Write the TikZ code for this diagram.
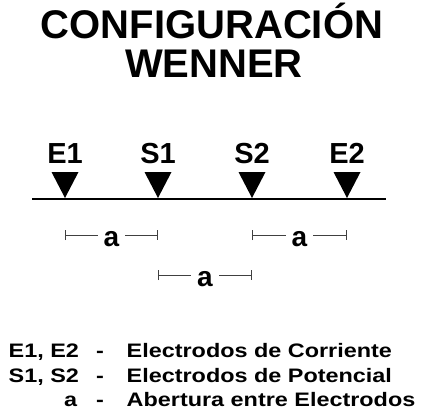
\documentclass[tikz,border=0pt]{standalone}
\usepackage{fontspec}
\setmainfont{Liberation Sans}
\newfontfamily\legendfont[FakeStretch=1.2]{Liberation Sans}
\usetikzlibrary{calc,arrows.meta}

\begin{document}
\begin{tikzpicture}[
    x=1pt, y=-1pt,
    titletext/.style={font=\fontsize{40}{40}\selectfont\bfseries, anchor=base, inner sep=0pt},
    electrodelabel/.style={font=\fontsize{29}{29}\selectfont\bfseries, anchor=base, inner sep=0pt},
    spacinglabel/.style={font=\fontsize{28}{28}\selectfont\bfseries, fill=white, inner xsep=6pt, inner ysep=1pt},
    spacing/.style={{Bar[width=10pt]}-{Bar[width=10pt]}, line width=0.8pt, black!75},
    legendtext/.style={font=\legendfont\bfseries\fontsize{19.5}{19.5}\selectfont, anchor=base west, inner sep=0pt},
    ground/.style={line width=2pt},
    spike/.style={fill=black},
]
\useasboundingbox (0,0) rectangle (427,415);

% === TITLE ===
\node[titletext] (title-top) at (212,38) {CONFIGURACIÓN};
\node[titletext] (title-bottom) at (214,77) {WENNER};

% === GROUND LINE AND ELECTRODES ===
\coordinate (ground-w) at (32,199);
\coordinate (ground-e) at (386,199);
\draw[ground] (ground-w) -- (ground-e);

\coordinate (e1) at (65,199);
\coordinate (s1) at (158,199);
\coordinate (s2) at (252,199);
\coordinate (e2) at (347,199);

\node[electrodelabel] (e1-label) at ($(e1)+(0,-36)$) {E1};
\node[electrodelabel] (s1-label) at ($(s1)+(0,-36)$) {S1};
\node[electrodelabel] (s2-label) at ($(s2)+(0,-36)$) {S2};
\node[electrodelabel] (e2-label) at ($(e2)+(0,-36)$) {E2};

\fill[spike] ($(e1)+(-13.5,-27)$) -- ($(e1)+(13.5,-27)$) -- ($(e1)+(0,-1)$) -- cycle;
\fill[spike] ($(s1)+(-13.5,-27)$) -- ($(s1)+(13.5,-27)$) -- ($(s1)+(0,-1)$) -- cycle;
\fill[spike] ($(s2)+(-13.5,-27)$) -- ($(s2)+(13.5,-27)$) -- ($(s2)+(0,-1)$) -- cycle;
\fill[spike] ($(e2)+(-13.5,-27)$) -- ($(e2)+(13.5,-27)$) -- ($(e2)+(0,-1)$) -- cycle;

% === SPACING MARKERS ===
\coordinate (gap1-l) at ($(e1)+(0,36)$);
\coordinate (gap1-r) at ($(s1)+(0,36)$);
\coordinate (gap2-l) at ($(s2)+(0,36)$);
\coordinate (gap2-r) at ($(e2)+(0,36)$);
\coordinate (gap3-l) at ($(s1)+(0,76)$);
\coordinate (gap3-r) at ($(s2)+(0,76)$);

\draw[spacing] (gap1-l) -- (gap1-r);
\draw[spacing] (gap2-l) -- (gap2-r);
\draw[spacing] (gap3-l) -- (gap3-r);

\node[spacinglabel] (gap1) at ($(gap1-l)!0.5!(gap1-r)+(0,4)$) {a};
\node[spacinglabel] (gap2) at ($(gap2-l)!0.5!(gap2-r)+(0,4)$) {a};
\node[spacinglabel] (gap3) at ($(gap3-l)!0.5!(gap3-r)+(0,4)$) {a};

% === LEGEND ===
\node[legendtext] (key-e) at (8.5,357) {E1, E2};
\node[legendtext] (dash-e) at (96,357) {-};
\node[legendtext] (desc-e) at (126.5,357) {Electrodos de Corriente};

\node[legendtext] (key-s) at (8.5,382) {S1, S2};
\node[legendtext] (dash-s) at (96,382) {-};
\node[legendtext] (desc-s) at (126.5,382) {Electrodos de Potencial};

\node[legendtext] (key-a) at (64,406) {a};
\node[legendtext] (dash-a) at (96,406) {-};
\node[legendtext] (desc-a) at (126.5,406) {Abertura entre Electrodos};

\end{tikzpicture}
\end{document}
